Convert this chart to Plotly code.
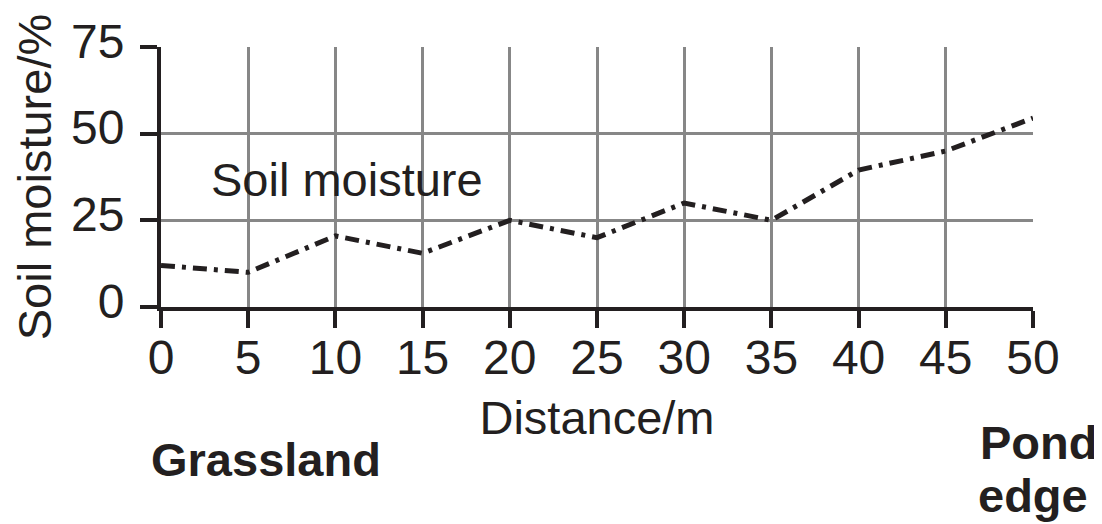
import plotly.graph_objects as go

distance = [0, 5, 10, 15, 20, 25, 30, 35, 40, 45, 50]
moisture = [12, 10, 20.5, 15.5, 25, 20, 30, 25, 39.5, 45, 54.5]
x_ticks = [0, 5, 10, 15, 20, 25, 30, 35, 40, 45, 50]
y_ticks = [0, 25, 50, 75]

INK = "#231f20"
GRID = "#878787"
FONT = "Liberation Sans, Arial, sans-serif"

fig = go.Figure()
fig.add_trace(go.Scatter(
    x=distance, y=moisture, mode="lines",
    line=dict(color=INK, width=5, dash="14px,7px,4px,7px"),
    showlegend=False, hoverinfo="skip",
))

axis_common = dict(
    showline=True, linecolor=INK, linewidth=4,
    ticks="outside", ticklen=17, tickwidth=4, tickcolor=INK,
    showgrid=True, gridcolor=GRID, gridwidth=3,
    zeroline=False, automargin=False,
    tickfont=dict(family=FONT, size=48, color=INK),
)

# page body has an 8px margin, so the figure is sized to fit the 1102x524 window
fig.update_layout(
    width=1094, height=516,
    margin=dict(l=153, r=69, t=39, b=217),
    paper_bgcolor="white", plot_bgcolor="white",
    font=dict(family=FONT, size=47, color=INK),
    xaxis=dict(range=[0, 50], tickvals=x_ticks, ticktext=[str(v) for v in x_ticks],
               ticklabelstandoff=-12,
               title=dict(text="Distance/m", font=dict(family=FONT, size=47, color=INK), standoff=20),
               **axis_common),
    yaxis=dict(range=[0, 75], tickvals=y_ticks, ticktext=[str(v) for v in y_ticks],
               ticklabelstandoff=6, ticklabelshift=-6,
               title=dict(text="Soil moisture/%", font=dict(family=FONT, size=47, color=INK), standoff=12),
               **axis_common),
)

fig.add_annotation(x=0.055, y=0.490, xref="paper", yref="paper", text="Soil moisture",
                   showarrow=False, xanchor="left", yanchor="middle",
                   font=dict(family=FONT, size=47, color=INK))
fig.add_annotation(x=-0.014, y=-0.588, xref="paper", yref="paper", text="<b>Grassland</b>",
                   showarrow=False, xanchor="left", yanchor="middle",
                   font=dict(family=FONT, size=47, color=INK))
fig.add_annotation(x=0.937, y=-0.521, xref="paper", yref="paper", text="<b>Pond</b>",
                   showarrow=False, xanchor="left", yanchor="middle",
                   font=dict(family=FONT, size=47, color=INK))
fig.add_annotation(x=0.935, y=-0.725, xref="paper", yref="paper", text="<b>edge</b>",
                   showarrow=False, xanchor="left", yanchor="middle",
                   font=dict(family=FONT, size=47, color=INK))

fig.write_html("out.html")
